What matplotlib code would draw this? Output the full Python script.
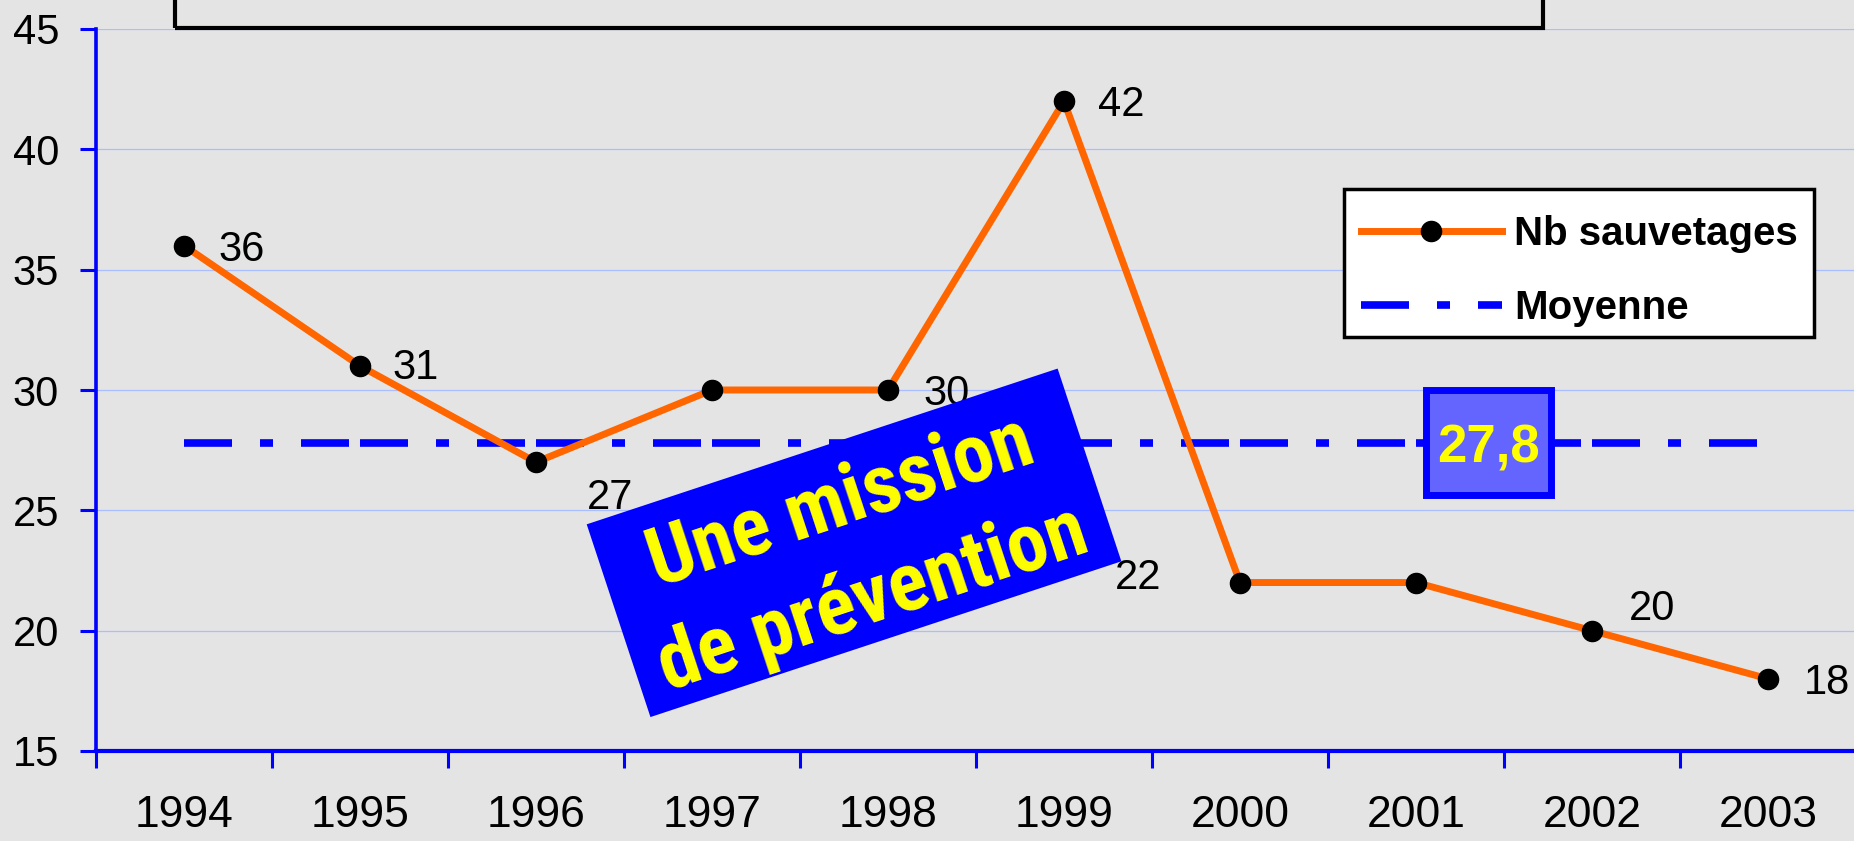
import numpy as np
import matplotlib
matplotlib.use('Agg')
import matplotlib.pyplot as plt
from matplotlib.patches import Rectangle
from matplotlib import font_manager
from matplotlib.font_manager import FontProperties
import matplotlib.transforms as mtransforms

# ---------------- data ----------------
years = ['1994', '1995', '1996', '1997', '1998', '1999', '2000', '2001', '2002', '2003']
rescues = [36, 31, 27, 30, 30, 42, 22, 22, 20, 18]
mean_value = 27.8
mean_label = '27,8'
series_names = ['Nb sauvetages', 'Moyenne']
banner_lines = ['Une mission', 'de prévention']
y_ticks = [15, 20, 25, 30, 35, 40, 45]

# ---------------- style ----------------
plt.rcParams['font.family'] = ['Liberation Sans', 'DejaVu Sans']
plt.rcParams['lines.scale_dashes'] = False

W, H, DPI = 1854, 841, 100
PX = 72.0 / DPI  # points per pixel

ORANGE = '#ff6600'
BLUE = '#0000ff'
YELLOW = '#ffff00'


def _weight(w):
    if isinstance(w, (int, float)):
        return w
    return font_manager.weight_dict.get(str(w).lower(), 400)


def narrow_bold_font():
    prefs = ['liberation sans narrow', 'arial narrow', 'roboto condensed',
             'open sans condensed', 'noto sans condensed', 'dejavu sans condensed']
    cands = []
    for f in font_manager.fontManager.ttflist:
        name = f.name.lower()
        fname = f.fname.lower()
        narrow = ('narrow' in name or 'condensed' in name or 'narrow' in fname
                  or 'condensed' in fname or str(f.stretch).endswith('condensed'))
        if not narrow or _weight(f.weight) < 600 or f.style != 'normal':
            continue
        key = name
        if 'condensed' in fname and 'condensed' not in key:
            key = name + ' condensed'
        rank = len(prefs)
        for i, p in enumerate(prefs):
            if key.startswith(p) or p in key:
                rank = i
                break
        cands.append((rank, abs(_weight(f.weight) - 700), f.fname))
    if cands:
        cands.sort()
        return FontProperties(fname=cands[0][2])
    return FontProperties(family=['Liberation Sans', 'DejaVu Sans'], weight='bold')


fig = plt.figure(figsize=(W / DPI, H / DPI), dpi=DPI)
fig.patch.set_facecolor('#e4e4e4')
ax = fig.add_axes([96 / W, 90 / H, 1760 / W, 722 / H])
ax.set_facecolor('none')
renderer = fig.canvas.get_renderer()

x = np.arange(len(years))
ax.set_xlim(-0.5, len(years) - 0.5)
ax.set_ylim(y_ticks[0], y_ticks[-1])

# grid
ax.set_yticks(y_ticks)
ax.yaxis.grid(True, color='#a9bdff', lw=0.9)
ax.set_axisbelow(True)

# spines
for s in ['top', 'right']:
    ax.spines[s].set_visible(False)
ax.spines['left'].set_color(BLUE)
ax.spines['left'].set_linewidth(2.6)
ax.spines['bottom'].set_color(BLUE)
ax.spines['bottom'].set_linewidth(3.0)

# ticks
ax.tick_params(axis='y', direction='out', length=16 * PX, width=2.2, color=BLUE,
               pad=21 * PX, labelsize=30, labelcolor='black')
ax.set_xticks(x)
ax.set_xticklabels(years)
ax.set_xticks(np.arange(len(years)) - 0.5, minor=True)
ax.tick_params(axis='x', which='major', length=0, pad=44 * PX, labelsize=32,
               labelcolor='black')
ax.tick_params(axis='x', which='minor', direction='out', length=17 * PX, width=2.2,
               color=BLUE)

# mean line (dash pattern repeats once per category)
dash = tuple(v * PX for v in (48, 28, 13, 28, 48, 11))
mean_line, = ax.plot(x, np.full(len(x), mean_value), color=BLUE, lw=5.5,
                     linestyle=(0, dash), solid_capstyle='butt', zorder=3)

# main series
main_line, = ax.plot(x, rescues, color=ORANGE, lw=5, marker='o', markersize=14.5,
                     markerfacecolor='black', markeredgecolor='black', zorder=5)

# data labels (offsets in pixels: dx, dy downwards, alignment)
label_offsets = [(34, 4, 'left'), (32, 2, 'left'), (51, 36, 'left'), None,
                 (35, 4, 'left'), (34, 4, 'left'), (-79, -5, 'right'), None,
                 (37, -22, 'left'), (36, 4, 'left')]
for xi, val, off in zip(x, rescues, label_offsets):
    if off is None:
        continue
    dx, dy, ha = off
    ax.annotate(str(val), (xi, val), xytext=(dx * PX, -dy * PX),
                textcoords='offset points', ha=ha, va='center', fontsize=30,
                color='black', zorder=6, annotation_clip=False)

# mean value box
box_x = 7.41
t_box = fig.dpi_scale_trans + mtransforms.ScaledTranslation(box_x, mean_value, ax.transData)
ax.add_patch(Rectangle((-0.625, -0.525), 1.25, 1.05, transform=t_box,
                       facecolor='#6464ff', edgecolor=BLUE, lw=5, zorder=8,
                       clip_on=False))
ax.annotate(mean_label, (box_x, mean_value), xytext=(0, -20 * PX),
            textcoords='offset points', ha='center', va='baseline', fontsize=38,
            fontweight='bold', color=YELLOW, zorder=9)

# rotated banner
ban_x, ban_y, ang = 3.807, 23.65, 18.3
t_ban = (mtransforms.Affine2D().rotate_deg(ang) + fig.dpi_scale_trans +
         mtransforms.ScaledTranslation(ban_x, ban_y, ax.transData))
ax.add_patch(Rectangle((-2.48, -1.015), 4.96, 2.03, transform=t_ban,
                       facecolor=BLUE, edgecolor='none', zorder=10, clip_on=False))

bfont = narrow_bold_font()
probe = fig.text(0, 0, banner_lines[1], fontproperties=bfont, fontsize=100)
probe_w = probe.get_window_extent(renderer).width
probe.remove()
bsize = min(100 * 447 / probe_w, 64)

a = np.deg2rad(ang)
perp = np.array([np.sin(a), -np.cos(a)])  # downward in the rotated frame
for line, p_px in zip(banner_lines, [-20, 82]):
    off = perp * p_px * PX
    ax.annotate(line, (ban_x, ban_y), xytext=(off[0], off[1]),
                textcoords='offset points', rotation=ang, rotation_mode='anchor',
                ha='center', va='baseline', fontproperties=bfont, fontsize=bsize,
                color=YELLOW, zorder=11, annotation_clip=False)

# legend frame drawn separately
ax.add_patch(Rectangle((1344 / W, 1 - 337 / H), (1814 - 1344) / W, (337 - 189) / H,
                       transform=fig.transFigure, facecolor='white',
                       edgecolor='black', lw=2.5, zorder=11.5, clip_on=False))
leg = ax.legend([main_line, mean_line], series_names, loc='upper left',
                bbox_to_anchor=(1344 / W, 1 - 198 / H), bbox_transform=fig.transFigure,
                borderaxespad=0, prop=dict(weight='bold', size=29), numpoints=1,
                handlelength=3.5, handletextpad=0.3, borderpad=0.42,
                labelspacing=0.9, frameon=False)
leg.set_zorder(12)

# top title frame (bottom edge visible)
fig.add_artist(Rectangle((175 / W, 1 - 28 / H), (1543 - 175) / W, 0.1,
                         transform=fig.transFigure, facecolor='none',
                         edgecolor='black', lw=3, clip_on=False, zorder=20))

fig.savefig('out.png', dpi=DPI, facecolor=fig.get_facecolor())
